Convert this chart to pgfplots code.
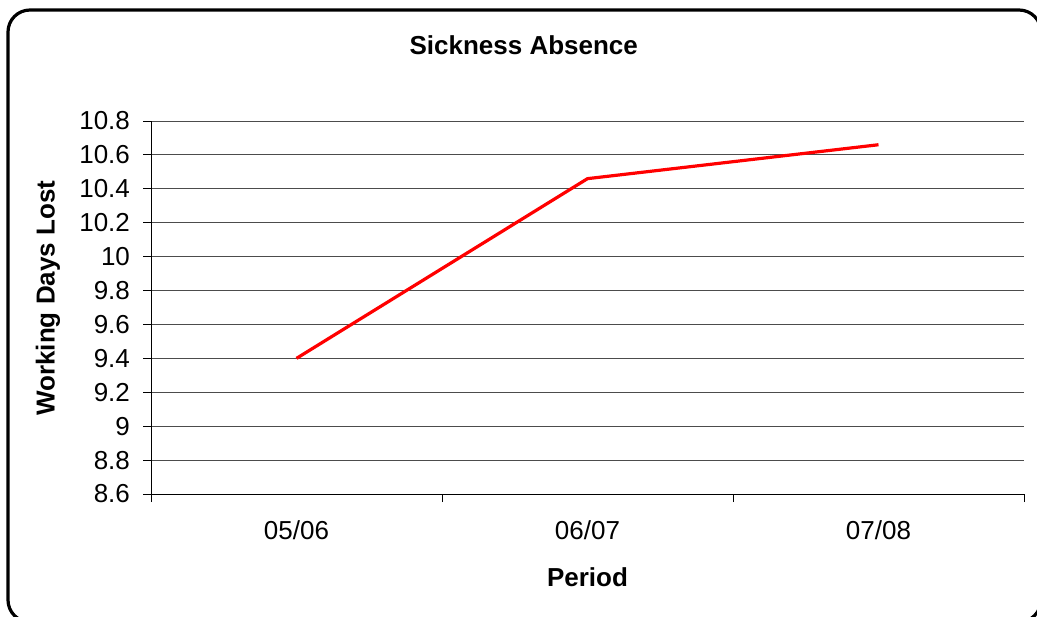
\documentclass[border=0pt]{standalone}
\usepackage{pgfplots}
\pgfplotsset{compat=1.18}
\usepackage{fontspec}
\setmainfont{Liberation Sans}

\begin{document}
\begin{tikzpicture}[x=1pt,y=1pt]
\useasboundingbox (0,0) rectangle (518.5,308);
% chart frame
\draw[line width=1.6pt, rounded corners=11pt] (4,303) rectangle (520.5,-3);
\begin{axis}[
  at={(75.5pt,61pt)}, anchor=south west,
  scale only axis, width=436.5pt, height=186.5pt,
  xmin=-0.5, xmax=2.5, ymin=8.6, ymax=10.8,
  axis x line*=bottom, axis y line*=left,
  axis line style={black, line width=0.5pt},
  ytick={8.6,8.8,9,9.2,9.4,9.6,9.8,10,10.2,10.4,10.6,10.8},
  yticklabels={8.6,8.8,9,9.2,9.4,9.6,9.8,10,10.2,10.4,10.6,10.8},
  xtick={-0.5,0.5,1.5,2.5}, xticklabels={},
  extra x ticks={0,1,2},
  extra x tick labels={05/06,06/07,07/08},
  extra x tick style={major tick length=0pt, grid=none},
  tick align=outside, major tick length=4pt,
  tick style={black, line width=0.5pt},
  ymajorgrids, major grid style={black!70, line width=0.5pt},
  yticklabel style={font=\fontsize{13}{15}\selectfont, xshift=-3pt},
  xticklabel style={font=\fontsize{13}{15}\selectfont, yshift=-10pt},
  clip=false,
]
\addplot[red, line width=1.6pt] coordinates {(0,9.4) (1,10.46) (2,10.66)};
\node[font=\fontsize{13}{15}\selectfont\bfseries] at (axis description cs:0.427,1.204) {Sickness Absence};
\node[font=\fontsize{13}{15}\selectfont\bfseries] at (axis description cs:0.5,-0.2225) {Period};
\node[font=\fontsize{13}{15}\selectfont\bfseries, rotate=90] at (axis description cs:-0.118,0.525) {Working Days Lost};
\end{axis}
\end{tikzpicture}
\end{document}
